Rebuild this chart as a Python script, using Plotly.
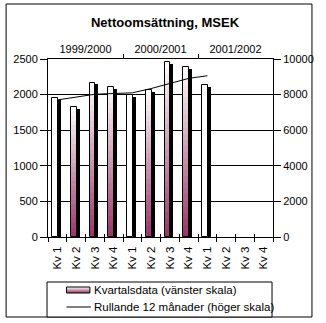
import plotly.graph_objects as go

# Quarterly net sales (MSEK, left scale) and rolling 12-month sales (right scale)
quarter_labels = ["Kv 1", "Kv 2", "Kv 3", "Kv 4",
                  "Kv 1", "Kv 2", "Kv 3", "Kv 4",
                  "Kv 1", "Kv 2", "Kv 3", "Kv 4"]
year_labels = ["1999/2000", "2000/2001", "2001/2002"]
quarterly_sales = [1950, 1830, 2170, 2110, 1990, 2070, 2460, 2390, 2140]
rolling_12m = [7700, 7870, 8020, 8060, 8100, 8340, 8630, 8910, 9060]

W, H = 326, 323
L, R, T, B = 48, 279, 59, 237          # plot area in pixels
FONT = "Liberation Sans, Arial, sans-serif"
PURPLE = (153, 51, 102)


def px_x(x):
    return (x - L) / (R - L)


def px_y(y):
    return (B - y) / (B - T)


def mix(t):
    r = round(255 + (PURPLE[0] - 255) * t)
    g = round(255 + (PURPLE[1] - 255) * t)
    b = round(255 + (PURPLE[2] - 255) * t)
    return f"rgb({r},{g},{b})"


xs = list(range(len(quarterly_sales)))
fig = go.Figure()

# drop shadow behind each bar
shadow_drop = 28
fig.add_trace(go.Bar(
    x=xs, y=[max(v - shadow_drop, 0) for v in quarterly_sales],
    offset=-0.01, width=0.19, marker=dict(color="black", line=dict(width=0)),
    showlegend=False, hoverinfo="skip"))

# gradient fill: overlapping bars from the base, each shorter and darker
N = 28
face_offset, face_width = -0.28, 0.30
for k in range(N):
    frac = (k + 0.5) / N
    colors = ["white" if i % 4 == 0 else mix(frac) for i in xs]
    fig.add_trace(go.Bar(
        x=xs, y=[v * (N - k) / N for v in quarterly_sales],
        offset=face_offset, width=face_width,
        marker=dict(color=colors, line=dict(width=0)),
        showlegend=False, hoverinfo="skip"))

# bar outlines
fig.add_trace(go.Bar(
    x=xs, y=quarterly_sales, offset=face_offset, width=face_width,
    marker=dict(color="rgba(0,0,0,0)", line=dict(color="black", width=1)),
    name="Kvartalsdata (vänster skala)", showlegend=False))

# rolling 12-month line on the right axis
fig.add_trace(go.Scatter(
    x=xs, y=rolling_12m, yaxis="y2", mode="lines",
    line=dict(color="black", width=1),
    name="Rullande 12 månader (höger skala)", showlegend=False))

n_cat = len(quarter_labels)
xrange = [-0.5, n_cat - 0.5]
bounds = [i - 0.5 for i in range(n_cat + 1)]

# empty carriers so the overlaid axes get drawn
for ax in ["x2", "x3", "x4", "x5"]:
    fig.add_trace(go.Scatter(x=[0.5], y=[0], xaxis=ax, yaxis="y", mode="none",
                             showlegend=False, hoverinfo="skip"))

tickfont = dict(family=FONT, size=11, color="black")

fig.update_layout(
    width=W, height=H,
    margin=dict(l=L, r=W - R, t=T, b=H - B, pad=0),
    paper_bgcolor="white", plot_bgcolor="white",
    barmode="overlay", bargap=0,
    showlegend=False,
    title=dict(text="<b>Nettoomsättning, MSEK</b>",
               font=dict(family=FONT, size=13, color="black"),
               x=165 / W, xref="container",
               xanchor="center", y=1 - 22 / H, yanchor="middle"),
    # bottom axis: boundary ticks
    xaxis=dict(range=xrange, tickmode="array", tickvals=bounds, ticktext=[""] * len(bounds),
               ticks="outside", ticklen=4, tickcolor="black", tickwidth=1,
               showline=True, linecolor="black", linewidth=1,
               showgrid=False, zeroline=False, fixedrange=True),
    # bottom axis: quarter labels at category centres
    xaxis4=dict(range=xrange, overlaying="x", anchor="y", side="bottom",
                tickmode="array", tickvals=list(range(n_cat)), ticktext=quarter_labels,
                tickangle=-90, tickfont=dict(family=FONT, size=11.5, color="black"),
                ticks="outside", ticklen=4, tickcolor="rgba(0,0,0,0)",
                showline=False, showgrid=False, zeroline=False),
    # inner half of the crossing ticks
    xaxis5=dict(range=xrange, overlaying="x", anchor="y", side="bottom",
                tickmode="array", tickvals=bounds, ticktext=[""] * len(bounds),
                ticks="inside", ticklen=3, tickcolor="black",
                showline=False, showgrid=False, zeroline=False),
    # top axis: fiscal-year separators and labels
    xaxis2=dict(range=[0, 3], overlaying="x", anchor="y", side="top",
                tickmode="array", tickvals=[1, 2], ticktext=["", ""],
                ticks="outside", ticklen=4, tickcolor="black",
                showline=True, linecolor="black", linewidth=1,
                showgrid=False, zeroline=False),
    xaxis3=dict(range=[0, 3], overlaying="x", anchor="y", side="top",
                tickmode="array", tickvals=[0.5, 1.5, 2.5], ticktext=year_labels,
                tickfont=tickfont, ticks="outside", ticklen=1,
                tickcolor="rgba(0,0,0,0)",
                showline=False, showgrid=False, zeroline=False),
    yaxis=dict(range=[0, 2500], dtick=500, tick0=0,
               ticks="outside", ticklen=7, tickcolor="black",
               showline=True, linecolor="black", linewidth=1,
               showgrid=True, gridcolor="black", gridwidth=1,
               zeroline=False, tickfont=tickfont, tickformat="d"),
    yaxis2=dict(range=[0, 10000], dtick=2000, tick0=0, overlaying="y", side="right",
                ticks="outside", ticklen=7, tickcolor="black",
                showline=True, linecolor="black", linewidth=1,
                showgrid=False, zeroline=False, tickfont=tickfont, tickformat="d"),
)

shapes = []
# outer chart frame
shapes.append(dict(type="rect", xref="paper", yref="paper",
                   x0=px_x(5), x1=px_x(319), y0=px_y(317), y1=px_y(4),
                   line=dict(color="black", width=1), fillcolor="rgba(0,0,0,0)",
                   layer="above"))
# legend box
shapes.append(dict(type="rect", xref="paper", yref="paper",
                   x0=px_x(47), x1=px_x(278), y0=px_y(317), y1=px_y(282),
                   line=dict(color="black", width=1), fillcolor="white",
                   layer="above"))
# legend swatch with vertical gradient
sw_top, sw_bot = 287, 293
steps = 6
for s in range(steps):
    y0 = sw_top + (sw_bot - sw_top) * s / steps
    y1 = sw_top + (sw_bot - sw_top) * (s + 1) / steps
    shapes.append(dict(type="rect", xref="paper", yref="paper",
                       x0=px_x(67), x1=px_x(91), y0=px_y(y1), y1=px_y(y0),
                       line=dict(width=0), fillcolor=mix((s + 0.5) / steps),
                       layer="above"))
shapes.append(dict(type="rect", xref="paper", yref="paper",
                   x0=px_x(67), x1=px_x(91), y0=px_y(sw_bot), y1=px_y(sw_top),
                   line=dict(color="black", width=1), fillcolor="rgba(0,0,0,0)",
                   layer="above"))
# legend line sample
shapes.append(dict(type="line", xref="paper", yref="paper",
                   x0=px_x(67), x1=px_x(92), y0=px_y(307), y1=px_y(307),
                   line=dict(color="black", width=1), layer="above"))
fig.update_layout(shapes=shapes)

legend_font = dict(family=FONT, size=11.5, color="black")
fig.add_annotation(text="Kvartalsdata (vänster skala)", xref="paper", yref="paper",
                   x=px_x(93), y=px_y(290), xanchor="left", yanchor="middle",
                   showarrow=False, font=legend_font)
fig.add_annotation(text="Rullande 12 månader (höger skala)", xref="paper", yref="paper",
                   x=px_x(93), y=px_y(307), xanchor="left", yanchor="middle",
                   showarrow=False, font=legend_font)

fig.write_html("out.html")
